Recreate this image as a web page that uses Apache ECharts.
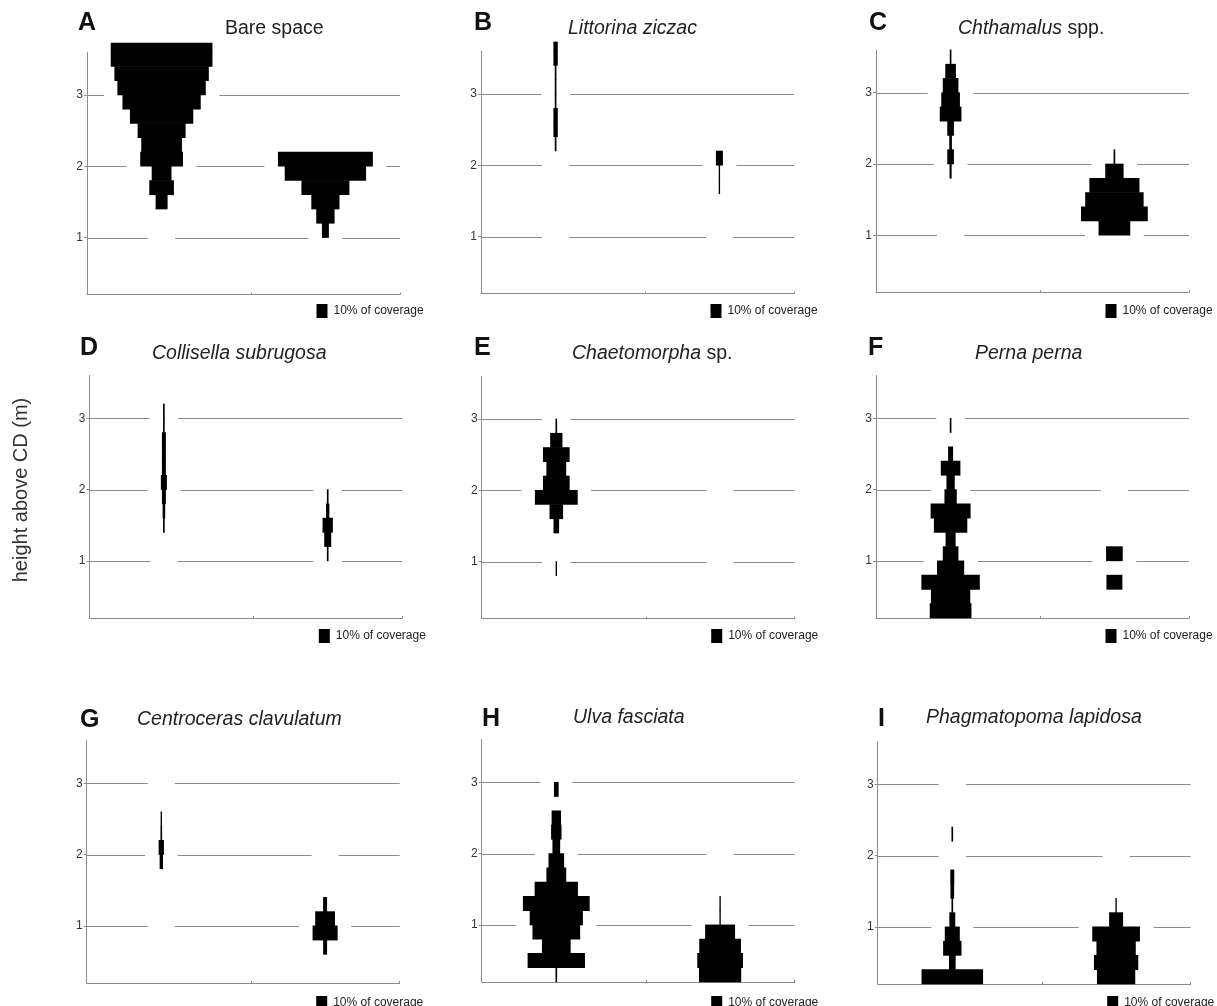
<!DOCTYPE html>
<html>
<head>
<meta charset="utf-8">
<script src="https://cdn.jsdelivr.net/npm/echarts@6/dist/echarts.min.js"></script>
<style>
html,body{margin:0;padding:0;background:#fff;}
#chart{width:1217px;height:1006px;}
</style>
</head>
<body>
<div id="chart"></div>
<script>
// ---- DATA ----
// bin centres of 0.2 m height classes (m above CD)
const heights = [0.3,0.5,0.7,0.9,1.1,1.3,1.5,1.7,1.9,2.1,2.3,2.5,2.7,2.9,3.1,3.3,3.5,3.7];
const yTickLabels = [1, 2, 3];
const siteNames = ['site 1', 'site 2'];
// % coverage per height class, site 1 (left kite) and site 2 (right kite)
const bareSpace1   = [0,0,0,0,0,0,11.5,23.6,19,41,39,46,60.7,75,84.7,90.5,97.5,97.5];
const bareSpace2   = [0,0,0,0,6.7,17.6,27,46,78,91,0,0,0,0,0,0,0,0];
const littorina1   = [0,0,0,0,0,0,0,0,0,0,1.6,4.2,4.2,1.6,1.6,1.6,4.2,4.2];
const littorina2   = [0,0,0,0,0,0,0,1.3,1.3,6.7,0,0,0,0,0,0,0,0];
const chthamalus1  = [0,0,0,0,0,0,0,0,2,6.4,2.5,6.4,20.8,17.9,15,10.2,1.6,0];
const chthamalus2  = [0,0,0,0,30.4,64,56,48,17.6,1.6,0,0,0,0,0,0,0,0];
const collisella1  = [0,0,0,0,0,0,1.6,2.5,3.8,5.8,3.8,3.8,3.8,1.6,1.6,0,0,0];
const collisella2  = [0,0,0,0,1.6,6.7,9.9,3.2,1.6,0,0,0,0,0,0,0,0,0];
const chaetomorpha1= [0,0,0,1.3,0,0,5.4,13,41,25.6,19,25.6,11.8,1.6,0,0,0,0];
const chaetomorpha2= [0,0,0,0,0,0,0,0,0,0,0,0,0,0,0,0,0,0];
const perna1       = [40,37.7,56,26,15,9.6,32,38.3,11.8,8,18.8,4.8,0,1.6,0,0,0,0];
const perna2       = [0,0,15.3,0,16,0,0,0,0,0,0,0,0,0,0,0,0,0];
const centroceras1 = [0,0,0,0,0,0,0,0,3.2,5.1,1.6,1.3,0,0,0,0,0,0];
const centroceras2 = [0,0,3.8,24,19,3.8,0,0,0,0,0,0,0,0,0,0,0,0];
const ulva1        = [1.6,55,27.5,45.7,51,64,41.5,19,15,7.4,10,9,0,4.5,0,0,0,0];
const ulva2        = [40.5,43.8,40,28.7,1.3,1.3,0,0,0,0,0,0,0,0,0,0,0,0];
const phragmato1   = [59,6.4,17.6,14.4,5.7,1.6,3.5,3.8,0,0,1.6,0,0,0,0,0,0,0];
const phragmato2   = [36.7,42.5,37.7,45.7,13.4,1.3,0,0,0,0,0,0,0,0,0,0,0,0];
// upper limit of each transect (m above CD)
const transectTop = [3.73, 2.4];
// x position of the two kites on a 0-300 "% coverage" axis
const siteX = [71.5, 228.5];

const panelLetters = ['A','B','C','D','E','F','G','H','I'];
const panelTitles = [
  'Bare space',
  '{i|Littorina ziczac}',
  '{i|Chthamalus} spp.',
  '{i|Collisella subrugosa}',
  '{i|Chaetomorpha} sp.',
  '{i|Perna perna}',
  '{i|Centroceras clavulatum}',
  '{i|Ulva fasciata}',
  '{i|Phagmatopoma lapidosa}'
];
const panelSeries = [
  [bareSpace1, bareSpace2],
  [littorina1, littorina2],
  [chthamalus1, chthamalus2],
  [collisella1, collisella2],
  [chaetomorpha1, chaetomorpha2],
  [perna1, perna2],
  [centroceras1, centroceras2],
  [ulva1, ulva2],
  [phragmato1, phragmato2]
];

// ---- LAYOUT (pixels) ----
const FONT = "'Liberation Sans', Arial, Helvetica, sans-serif";
const GW = 313, GH = 242.4;
const gridPos = [
  [87, 52.2], [481, 51.2], [876, 49.9],
  [89.3, 375.5], [481.7, 376.2], [876, 375.5],
  [86.7, 740.5], [481.7, 739.5], [877.7, 741.5]
];
const letterPos = [
  [78, 23], [474, 23], [869, 23],
  [80, 348], [474, 348], [868, 348],
  [80, 720], [482, 719], [878, 719]
];
const titlePos = [
  [225, 28.5], [568, 28.5], [958, 28.5],
  [152, 354], [572, 354], [975, 354],
  [137, 720], [573, 718], [926, 718]
];
const legendY = [311, 311, 311, 636, 636, 636, 1003, 1003, 1003];
const BIN = 0.2;
const HALO = 13.5;
const GRID_COLOR = '#8c8c8c';

function binIndex(h) {
  let best = -1, bd = 1e9;
  heights.forEach((v, i) => { const d = Math.abs(v - h); if (d < bd) { bd = d; best = i; } });
  return bd < 0.05 ? best : -1;
}

function makeGridRender(series) {
  return function (params, api) {
    const L = api.value(1);
    const cs = params.coordSys;
    const y = Math.round(api.coord([0, L])[1]) + 0.5;
    const gaps = [];
    for (let s = 0; s < 2; s++) {
      if (L > transectTop[s]) continue;
      const i1 = binIndex(L - BIN / 2), i2 = binIndex(L + BIN / 2);
      const c = Math.max(i1 >= 0 ? series[s][i1] : 0, i2 >= 0 ? series[s][i2] : 0);
      const xc = api.coord([siteX[s], L])[0];
      const hw = api.coord([siteX[s] + c / 2, L])[0] - xc;
      gaps.push([xc - hw - HALO, xc + hw + HALO]);
    }
    gaps.sort((a, b) => a[0] - b[0]);
    const children = [];
    let x = cs.x;
    const xEnd = cs.x + cs.width;
    gaps.forEach(g => {
      if (g[0] > x) children.push({ type: 'line', shape: { x1: x, y1: y, x2: Math.min(g[0], xEnd), y2: y }, style: { stroke: GRID_COLOR, lineWidth: 1 } });
      x = Math.max(x, g[1]);
    });
    if (x < xEnd) children.push({ type: 'line', shape: { x1: x, y1: y, x2: xEnd, y2: y }, style: { stroke: GRID_COLOR, lineWidth: 1 } });
    return { type: 'group', children };
  };
}

function kiteRender(params, api) {
  const s = api.value(0), h = api.value(1), c = api.value(2);
  if (!c) return null;
  const top = Math.min(h + BIN / 2, transectTop[s]);
  const p1 = api.coord([siteX[s] - c / 2, top]);
  const p2 = api.coord([siteX[s] + c / 2, h - BIN / 2]);
  return {
    type: 'rect',
    shape: { x: p1[0], y: p1[1] - 0.3, width: p2[0] - p1[0], height: p2[1] - p1[1] + 0.6 },
    style: { fill: '#000' }
  };
}

const grids = [], xAxes = [], yAxes = [], series = [], graphics = [];
panelSeries.forEach((ps, p) => {
  const [gl, gt] = gridPos[p];
  grids.push({ left: gl, top: gt, width: GW, height: GH, containLabel: false });
  xAxes.push({
    type: 'value', gridIndex: p, min: 0, max: 300,
    axisLine: { show: true, onZero: false, lineStyle: { color: GRID_COLOR, width: 1 } },
    axisTick: { show: true, inside: true, length: 2, customValues: [157.5, 300], lineStyle: { color: GRID_COLOR } },
    axisLabel: { show: false }, splitLine: { show: false }
  });
  yAxes.push({
    type: 'value', gridIndex: p, min: 0.2, max: 3.6,
    axisLine: { show: true, lineStyle: { color: GRID_COLOR, width: 1 } },
    axisTick: { show: true, length: 3, customValues: yTickLabels, lineStyle: { color: GRID_COLOR } },
    axisLabel: { show: true, customValues: yTickLabels, fontSize: 12, color: '#333', margin: 4, fontFamily: FONT },
    splitLine: { show: false }
  });
  series.push({
    type: 'custom', name: 'grid' + p, xAxisIndex: p, yAxisIndex: p, silent: true, z: 1,
    data: yTickLabels.map(v => [0, v]),
    encode: { x: 0, y: 1 },
    renderItem: makeGridRender(ps)
  });
  const kd = [];
  ps.forEach((arr, s) => arr.forEach((c, i) => { if (c > 0) kd.push([s, heights[i], c]); }));
  series.push({
    type: 'custom', name: panelLetters[p], xAxisIndex: p, yAxisIndex: p, silent: true, z: 3, clip: false,
    data: kd, encode: { x: 0, y: 1 },
    renderItem: kiteRender
  });
  // letter
  graphics.push({
    type: 'text', x: letterPos[p][0], y: letterPos[p][1],
    style: { text: panelLetters[p], fill: '#111', font: 'bold 25px ' + FONT, align: 'left', verticalAlign: 'middle' }
  });
  // title
  graphics.push({
    type: 'text', x: titlePos[p][0], y: titlePos[p][1],
    style: {
      text: panelTitles[p], fill: '#222', fontSize: 19.5, fontFamily: FONT, align: 'left', verticalAlign: 'middle',
      rich: { i: { fontStyle: 'italic', fontSize: 19.5, fontFamily: FONT, fill: '#222' } }
    }
  });
  // coverage key
  const kx = gl + GW - 83.5;
  graphics.push({ type: 'rect', shape: { x: kx, y: legendY[p] - 7, width: 11, height: 14 }, style: { fill: '#000' } });
  graphics.push({
    type: 'text', x: kx + 17, y: legendY[p],
    style: { text: '10% of coverage', fill: '#222', font: '12px ' + FONT, align: 'left', verticalAlign: 'middle' }
  });
});
graphics.push({
  type: 'text', x: 21, y: 490, rotation: Math.PI / 2,
  style: { text: 'height above CD (m)', fill: '#333', font: '20px ' + FONT, align: 'center', verticalAlign: 'middle' }
});

const chart = echarts.init(document.getElementById('chart'), null, { renderer: 'canvas' });
chart.setOption({
  animation: false,
  backgroundColor: '#fff',
  grid: grids, xAxis: xAxes, yAxis: yAxes, series: series,
  graphic: graphics
});
</script>
</body>
</html>
